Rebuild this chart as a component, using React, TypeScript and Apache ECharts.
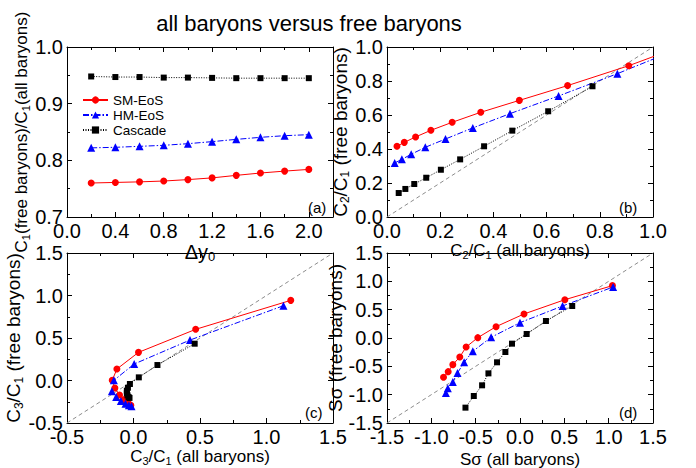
import React, { useEffect, useRef } from 'react';
import * as echarts from 'echarts';

const FONT = '"Liberation Sans", Arial, Helvetica, sans-serif';

// ---------- data ----------
const seriesNames = ['SM-EoS', 'HM-EoS', 'Cascade'];

// (a) ratio C1(free)/C1(all) vs Δy0
const dy0 = [0.2, 0.4, 0.6, 0.8, 1.0, 1.2, 1.4, 1.6, 1.8, 2.0];
const ratioSM = [0.76, 0.761, 0.762, 0.7635, 0.766, 0.769, 0.7735, 0.7776, 0.781, 0.784];
const ratioHM = [0.822, 0.823, 0.8247, 0.8265, 0.8294, 0.833, 0.837, 0.8406, 0.8435, 0.8453];
const ratioCas = [0.948, 0.947, 0.947, 0.946, 0.946, 0.9455, 0.945, 0.945, 0.945, 0.945];

// (b) C2/C1
const c2AllSM = [0.0375, 0.065, 0.1075, 0.165, 0.245, 0.3525, 0.4975, 0.679, 0.909, 1.05];
const c2FreeSM = [0.416, 0.439, 0.471, 0.51, 0.557, 0.616, 0.686, 0.773, 0.89, 0.972];
const c2AllHM = [0.029, 0.056, 0.091, 0.144, 0.22, 0.3225, 0.4625, 0.645, 0.866, 1.05];
const c2FreeHM = [0.318, 0.339, 0.369, 0.41, 0.459, 0.524, 0.608, 0.712, 0.843, 0.96];
const c2AllCas = [0.044, 0.069, 0.1025, 0.1475, 0.2025, 0.275, 0.365, 0.471, 0.606, 0.7725];
const c2FreeCas = [0.141, 0.165, 0.194, 0.231, 0.278, 0.339, 0.416, 0.508, 0.622, 0.769];

// (c) C3/C1
const c3AllSM = [1.1825, 0.4675, 0.0375, -0.125, -0.16, -0.14, -0.105, -0.07, -0.04, -0.02];
const c3FreeSM = [0.943, 0.602, 0.331, 0.135, 0.002, -0.088, -0.171, -0.225, -0.265, -0.292];
const c3AllHM = [1.1275, 0.425, 0.005, -0.1475, -0.1625, -0.13, -0.095, -0.06, -0.035, -0.015];
const c3FreeHM = [0.88, 0.476, 0.194, 0.002, -0.127, -0.194, -0.241, -0.273, -0.292, -0.304];
const c3AllCas = [0.46, 0.18, 0.04, -0.027, -0.042, -0.05, -0.05, -0.045, -0.037, -0.03];
const c3FreeCas = [0.433, 0.182, 0.037, -0.041, -0.085, -0.12, -0.15, -0.175, -0.195, -0.205];

// (d) Sσ
const sAllSM = [-0.8625, -0.81, -0.7575, -0.679, -0.6075, -0.476, -0.27, 0.045, 0.506, 1.0425];
const sFreeSM = [-0.694, -0.594, -0.47, -0.335, -0.159, 0.006, 0.2, 0.424, 0.676, 0.924];
const sAllHM = [-0.836, -0.814, -0.7575, -0.705, -0.63, -0.5325, -0.326, 0.0, 0.48, 1.05];
const sFreeHM = [-0.97, -0.888, -0.776, -0.618, -0.429, -0.235, 0.012, 0.271, 0.565, 0.9];
const sAllCas = [-0.615, -0.521, -0.4275, -0.356, -0.259, -0.165, -0.09, 0.075, 0.2925, 0.589];
const sFreeCas = [-1.229, -1.024, -0.835, -0.624, -0.429, -0.247, -0.1, 0.071, 0.3, 0.565];

// axis ranges [min, max, interval]
const rangeAX = [0, 2.2, 0.4];
const rangeAY = [0.7, 1.0, 0.1];
const rangeB = [0, 1, 0.2];
const rangeC = [-0.5, 1.5, 0.5];
const rangeD = [-1.5, 1.5, 0.5];

const panelTags = ['(a)', '(b)', '(c)', '(d)'];
const titleText = 'all baryons versus free baryons';

// ---------- helpers ----------
const zip = (xs: number[], ys: number[]) => xs.map((x, i) => [x, ys[i]]);

const grids = [
  { left: 67, top: 47, width: 266, height: 170 },
  { left: 387, top: 47, width: 266, height: 170 },
  { left: 67, top: 253, width: 266, height: 170 },
  { left: 387, top: 253, width: 266, height: 170 },
];

const richName = (size: number) => ({
  n: { fontSize: size, lineHeight: size + 3, fontFamily: FONT, color: '#000' },
  s: { fontSize: Math.round(size * 0.65), lineHeight: Math.round(size * 0.65), verticalAlign: 'bottom', fontFamily: FONT, color: '#000' },
});

function axis(
  kind: 'x' | 'y',
  grid: number,
  r: number[],
  main: boolean,
  name?: string,
  nameGap?: number,
  nameSize?: number,
  hideMax?: boolean
) {
  const [min, max, interval] = r;
  const a: any = {
    type: 'value',
    gridIndex: grid,
    min,
    max,
    interval,
    position: kind === 'x' ? (main ? 'bottom' : 'top') : main ? 'left' : 'right',
    axisLine: { show: true, onZero: false, lineStyle: { color: '#000', width: 1 } },
    axisTick: { show: true, inside: true, length: 5, lineStyle: { color: '#000', width: 1 } },
    minorTick: { show: true, splitNumber: 2, length: 3, lineStyle: { color: '#000', width: 1 } },
    splitLine: { show: false },
    minorSplitLine: { show: false },
    axisLabel: {
      show: main,
      fontSize: 20,
      lineHeight: 14,
      fontFamily: FONT,
      color: '#000',
      margin: kind === 'x' ? 7 : 4,
      showMaxLabel: hideMax ? false : undefined,
      formatter: (v: number) => (hideMax && v > max - 1e-6 ? '' : v.toFixed(1)),
    },
  };
  if (main && name) {
    a.name = name;
    a.nameLocation = 'middle';
    a.nameGap = nameGap;
    a.nameTextStyle = { fontSize: nameSize, fontFamily: FONT, color: '#000', rich: richName(nameSize || 17) };
  }
  return a;
}

const styles: any = {
  'SM-EoS': { color: '#ff0000', symbol: 'circle', symbolSize: 7, lineType: 'solid' },
  'HM-EoS': { color: '#0000ff', symbol: 'triangle', symbolSize: 8, lineType: [6, 2, 1.5, 2] },
  Cascade: { color: '#000000', symbol: 'rect', symbolSize: 6, lineType: [1, 1.5] },
};

function lineSeries(name: string, g: number, data: number[][]) {
  const st = styles[name];
  return {
    type: 'line',
    name,
    xAxisIndex: g * 2,
    yAxisIndex: g * 2,
    data,
    symbol: st.symbol,
    symbolSize: st.symbolSize,
    showSymbol: true,
    clip: true,
    itemStyle: { color: st.color },
    lineStyle: { color: st.color, width: 1, type: st.lineType },
    z: 3,
  };
}

function diagonal(g: number, r: number[]) {
  return {
    type: 'line',
    xAxisIndex: g * 2,
    yAxisIndex: g * 2,
    data: [
      [r[0], r[0]],
      [r[1], r[1]],
    ],
    symbol: 'none',
    silent: true,
    lineStyle: { color: '#8c8c8c', width: 1, type: [4, 3] },
    z: 1,
  };
}

export default function App() {
  const ref = useRef<HTMLDivElement>(null);
  useEffect(() => {
    document.body.style.margin = '0';
    const chart = echarts.init(ref.current!, null, { renderer: 'svg' });

    const xAxes = [
      axis('x', 0, rangeAX, true, '{n|Δy}{s|0}', 18, 20, true),
      axis('x', 0, rangeAX, false, undefined, undefined, undefined, true),
      axis('x', 1, rangeB, true, '{n|C}{s|2}{n|/C}{s|1}{n| (all baryons)}', 15, 17),
      axis('x', 1, rangeB, false),
      axis('x', 2, rangeC, true, '{n|C}{s|3}{n|/C}{s|1}{n| (all baryons)}', 22, 17),
      axis('x', 2, rangeC, false),
      axis('x', 3, rangeD, true, '{n|Sσ (all baryons)}', 26, 17),
      axis('x', 3, rangeD, false),
    ];
    const yAxes = [
      axis('y', 0, rangeAY, true, '{n|C}{s|1}{n|(free baryons)/C}{s|1}{n|(all baryons)}', 33, 17),
      axis('y', 0, rangeAY, false),
      axis('y', 1, rangeB, true, '{n|C}{s|2}{n|/C}{s|1}{n| (free baryons)}', 29, 19),
      axis('y', 1, rangeB, false),
      axis('y', 2, rangeC, true, '{n|C}{s|3}{n|/C}{s|1}{n| (free baryons)}', 31, 19),
      axis('y', 2, rangeC, false),
      axis('y', 3, rangeD, true, '{n|Sσ (free baryons)}', 30, 19),
      axis('y', 3, rangeD, false),
    ];

    const series: any[] = [
      lineSeries('SM-EoS', 0, zip(dy0, ratioSM)),
      lineSeries('HM-EoS', 0, zip(dy0, ratioHM)),
      lineSeries('Cascade', 0, zip(dy0, ratioCas)),
      diagonal(1, rangeB),
      lineSeries('SM-EoS', 1, zip(c2AllSM, c2FreeSM)),
      lineSeries('HM-EoS', 1, zip(c2AllHM, c2FreeHM)),
      lineSeries('Cascade', 1, zip(c2AllCas, c2FreeCas)),
      diagonal(2, rangeC),
      lineSeries('SM-EoS', 2, zip(c3AllSM, c3FreeSM)),
      lineSeries('HM-EoS', 2, zip(c3AllHM, c3FreeHM)),
      lineSeries('Cascade', 2, zip(c3AllCas, c3FreeCas)),
      diagonal(3, rangeD),
      lineSeries('SM-EoS', 3, zip(sAllSM, sFreeSM)),
      lineSeries('HM-EoS', 3, zip(sAllHM, sFreeHM)),
      lineSeries('Cascade', 3, zip(sAllCas, sFreeCas)),
    ];

    const tagPos = [
      [308, 207],
      [619, 207],
      [305, 412],
      [619, 412],
    ];

    chart.setOption({
      animation: false,
      backgroundColor: '#ffffff',
      textStyle: { fontFamily: FONT },
      grid: grids.map((g) => ({ ...g, containLabel: false, outerBoundsMode: 'none' })),
      xAxis: xAxes,
      yAxis: yAxes,
      legend: {
        data: seriesNames,
        orient: 'vertical',
        left: 77,
        top: 88,
        itemWidth: 25,
        itemHeight: 9,
        itemGap: 1,
        selectedMode: false,
        textStyle: { fontSize: 13.5, lineHeight: 13, fontFamily: FONT, color: '#000' },
      },
      graphic: [
        {
          type: 'text',
          x: 309,
          y: 23,
          style: {
            text: titleText,
            fontSize: 22,
            fontFamily: FONT,
            fill: '#000',
            textAlign: 'center',
            textVerticalAlign: 'middle',
          },
        },
        ...panelTags.map((t, i) => ({
          type: 'text',
          x: tagPos[i][0],
          y: tagPos[i][1],
          style: {
            text: t,
            fontSize: 15,
            fontFamily: FONT,
            fill: '#000',
            textAlign: 'left',
            textVerticalAlign: 'middle',
          },
        })),
      ],
      series,
    });
    return () => chart.dispose();
  }, []);
  return <div ref={ref} style={{ position: 'absolute', left: 0, top: 0, width: 696, height: 468 }} />;
}
